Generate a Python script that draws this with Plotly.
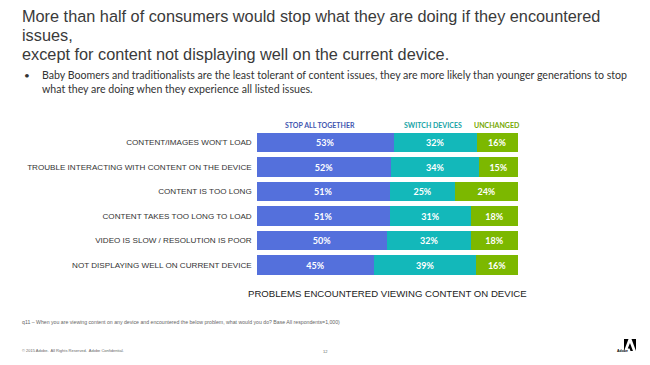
import plotly.graph_objects as go

categories = [
    "CONTENT/IMAGES WON'T LOAD",
    "TROUBLE INTERACTING WITH CONTENT ON THE DEVICE",
    "CONTENT IS TOO LONG",
    "CONTENT TAKES TOO LONG TO LOAD",
    "VIDEO IS SLOW / RESOLUTION IS POOR",
    "NOT DISPLAYING WELL ON CURRENT DEVICE",
]
stop_all = [53, 52, 51, 51, 50, 45]
switch_devices = [32, 34, 25, 31, 32, 39]
unchanged = [16, 15, 24, 18, 18, 16]

series_names = ["STOP ALL TOGETHER", "SWITCH DEVICES", "UNCHANGED"]
series_values = [stop_all, switch_devices, unchanged]
bar_colors = ["#5470DC", "#13B8BA", "#7CB800"]
header_colors = ["#3F55B0", "#17A3A6", "#76A800"]

W, H = 650, 365
fig = go.Figure()
for name, vals, col in zip(series_names, series_values, bar_colors):
    fig.add_trace(go.Bar(
        name=name, y=categories, x=vals, orientation="h",
        marker=dict(color=col, line=dict(width=0)),
        text=[f"{v}%" for v in vals], textposition="inside",
        insidetextanchor="middle",
        textfont=dict(family="Lato", size=9, color="white", weight="bold"),
        cliponaxis=False,
    ))

x0, x1 = 256.7, 518.0
ytop, ybot = 130.3, 277.3
fig.update_layout(
    width=W, height=H, barmode="stack", barnorm="percent", bargap=0.2,
    margin=dict(l=0, r=0, t=0, b=0), showlegend=False,
    plot_bgcolor="white", paper_bgcolor="white",
    xaxis=dict(domain=[x0 / W, x1 / W], range=[0, 100], showgrid=False,
               zeroline=False, showticklabels=False, ticks="",
               title=dict(text="PROBLEMS ENCOUNTERED VIEWING CONTENT ON DEVICE",
                          standoff=12,
                          font=dict(family="Liberation Sans", size=9.6, color="#222"))),
    yaxis=dict(domain=[1 - ybot / H, 1 - ytop / H], autorange="reversed",
               showgrid=False, zeroline=False, ticks="", ticklabelstandoff=4,
               tickfont=dict(family="Liberation Sans", size=8.1, color="#333")),
)

# series header labels above the first bar
header_x = [24.4, 67.5, 92.0]
for name, hx, hc in zip(series_names, header_x, header_colors):
    fig.add_annotation(x=hx, xref="x", y=1 - 125.5 / H, yref="paper",
                       text=f"<b>{name}</b>", showarrow=False,
                       font=dict(family="Lato", size=7, color=hc))

title_lines = [
    (16, "More than half of consumers would stop what they are doing if they encountered"),
    (35, "issues,"),
    (54, "except for content not displaying well on the current device."),
]
for yy, t in title_lines:
    fig.add_annotation(x=20 / W, xref="paper", y=1 - yy / H, yref="paper",
                       text=t, showarrow=False, xanchor="left", yanchor="middle",
                       font=dict(family="Liberation Sans", size=16.3, color="#3a3a3a"))

fig.add_annotation(x=22 / W, xref="paper", y=1 - 75 / H, yref="paper", text="•",
                   showarrow=False, xanchor="left", yanchor="middle",
                   font=dict(family="Lato", size=10, color="#333"))
bullet = [
    (75, "Baby Boomers and traditionalists are the least tolerant of content issues, they are more likely than younger generations to stop"),
    (89, "what they are doing when they experience all listed issues."),
]
for yy, t in bullet:
    fig.add_annotation(x=40 / W, xref="paper", y=1 - yy / H, yref="paper", text=t,
                       showarrow=False, xanchor="left", yanchor="middle",
                       font=dict(family="Lato", size=10.6, color="#333"))

fig.add_annotation(x=20 / W, xref="paper", y=1 - 322 / H, yref="paper",
                   text="q11 – When you are viewing content on any device and encountered the below problem, what would you do? Base All respondents=1,000)",
                   showarrow=False, xanchor="left", yanchor="middle",
                   font=dict(family="Liberation Sans", size=5.2, color="#666"))
fig.add_annotation(x=20 / W, xref="paper", y=1 - 350 / H, yref="paper",
                   text="© 2015 Adobe.  All Rights Reserved.  Adobe Confidential.",
                   showarrow=False, xanchor="left", yanchor="middle",
                   font=dict(family="Liberation Sans", size=4, color="#666"))
fig.add_annotation(x=325 / W, xref="paper", y=1 - 351 / H, yref="paper", text="12",
                   showarrow=False, xanchor="center", yanchor="middle",
                   font=dict(family="Liberation Sans", size=4, color="#666"))

# Adobe logo
def px(x, y):
    return f"{x / W:.4f},{1 - y / H:.4f}"
fig.add_shape(type="path", xref="paper", yref="paper",
              path=f"M {px(624,339)} L {px(628.5,339)} L {px(624,351)} Z",
              fillcolor="black", line=dict(width=0))
fig.add_shape(type="path", xref="paper", yref="paper",
              path=f"M {px(631.5,339)} L {px(636,339)} L {px(636,351)} Z",
              fillcolor="black", line=dict(width=0))
fig.add_shape(type="path", xref="paper", yref="paper",
              path=f"M {px(630,343)} L {px(633,351)} L {px(630.5,351)} L {px(629.5,348.5)} L {px(627.8,348.5)} Z",
              fillcolor="black", line=dict(width=0))
fig.add_annotation(x=630 / W, xref="paper", y=1 - 355 / H, yref="paper", text="<b>Adobe</b>",
                   showarrow=False, font=dict(family="Liberation Sans", size=3.5, color="#000"))

fig.write_html("out.html", config={"displayModeBar": False},
               post_script="document.body.style.margin='0';document.body.style.overflow='hidden';")
